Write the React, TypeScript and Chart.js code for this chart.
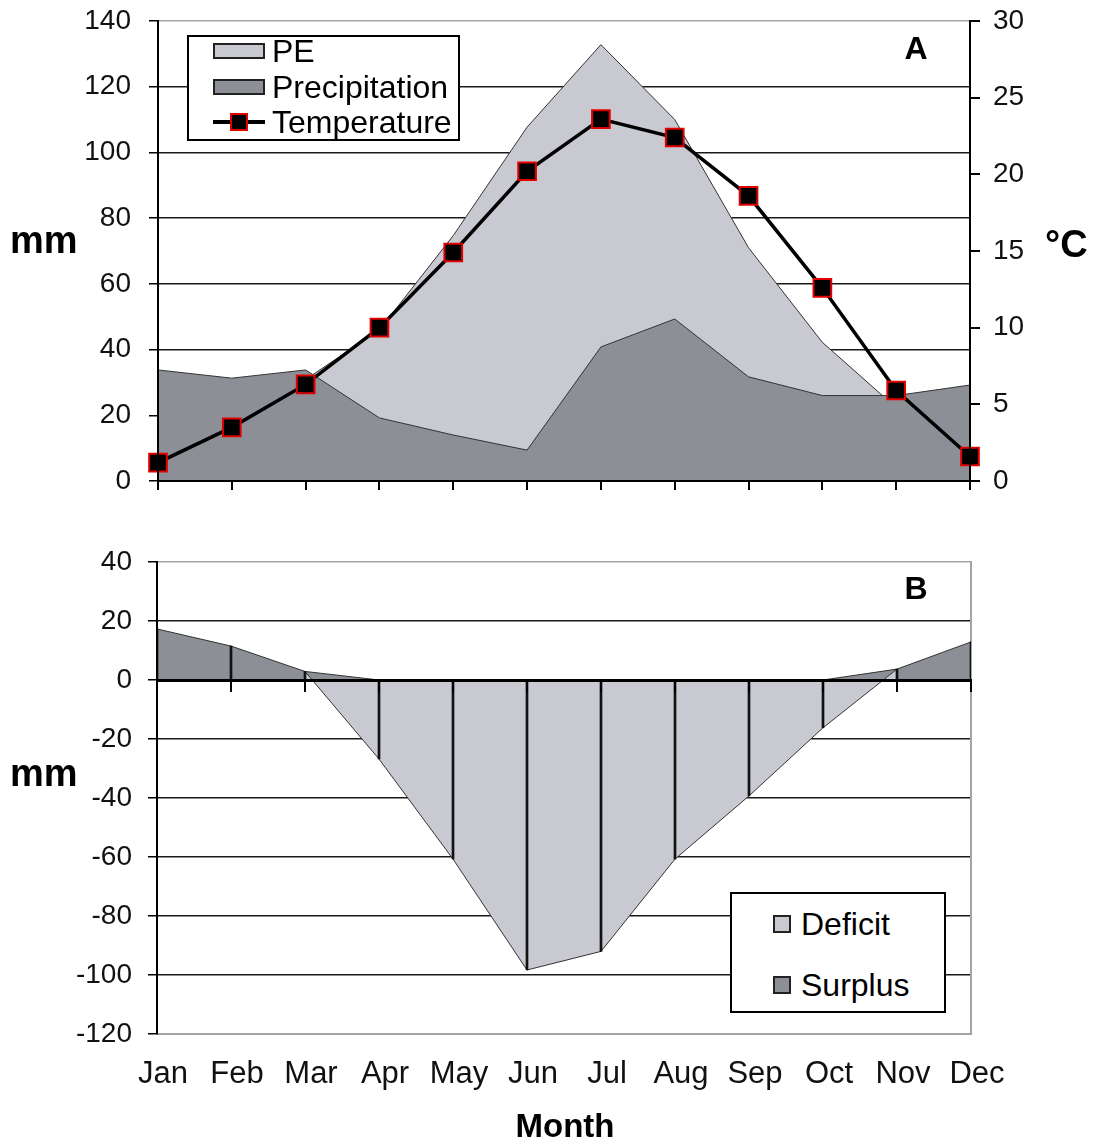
import React, { useEffect, useRef } from 'react';
import { Chart, registerables } from 'chart.js';

Chart.register(...registerables);

// ---- data ----
const months = ['Jan', 'Feb', 'Mar', 'Apr', 'May', 'Jun', 'Jul', 'Aug', 'Sep', 'Oct', 'Nov', 'Dec'];
const peMm = [16.5, 19.8, 30.9, 46, 74.7, 107.7, 132.8, 110, 71, 42.2, 22.3, 16.3];
const precipitationMm = [33.8, 31.3, 33.8, 19.2, 14, 9.4, 40.8, 49.3, 31.7, 26, 26, 29.2];
const temperatureC = [1.2, 3.5, 6.3, 10.0, 14.9, 20.2, 23.6, 22.4, 18.6, 12.6, 5.9, 1.6];
const surplusMm = [17.3, 11.5, 2.9, 0, 0, 0, 0, 0, 0, 0, 3.7, 12.9];
const deficitMm = [null, null, 2.9, -26.8, -60.7, -98.3, -92, -60.7, -39.3, -16.2, 3.7, null];
const balanceMm = [17.3, 11.5, 2.9, -26.8, -60.7, -98.3, -92, -60.7, -39.3, -16.2, 3.7, 12.9];
const mmTicksTop = { min: 0, max: 140, step: 20 };
const cTicks = { min: 0, max: 30, step: 5 };
const mmTicksBottom = { min: -120, max: 40, step: 20 };

const FONT = "'Liberation Sans', Arial, Helvetica, sans-serif";
const LIGHT = '#c8c9d1';
const DARK = '#8d8f97';
const GRID = '#1a1a1a';
const BORDER_GRAY = '#a3a3a3';

function Txt(props: { x: number; y: number; size: number; bold?: boolean; center?: boolean; children: any }) {
  return (
    <div
      style={{
        position: 'absolute',
        left: props.x,
        top: props.y,
        transform: props.center ? 'translate(-50%, -50%)' : 'translate(0, -50%)',
        fontSize: props.size,
        fontWeight: props.bold ? 'bold' : 'normal',
        lineHeight: 1,
        whiteSpace: 'nowrap',
        color: '#000',
        fontFamily: FONT,
      }}
    >
      {props.children}
    </div>
  );
}

const fitY = (w: number) => (s: any) => {
  s.width = w;
  s.paddingTop = 0;
  s.paddingBottom = 0;
};

export default function App() {
  const topRef = useRef<HTMLCanvasElement>(null);
  const botRef = useRef<HTMLCanvasElement>(null);

  useEffect(() => {
    Chart.defaults.font.family = FONT;
    Chart.defaults.color = '#111';

    const top = new Chart(topRef.current as HTMLCanvasElement, {
      type: 'line',
      data: {
        labels: months,
        datasets: [
          {
            label: 'Temperature',
            data: temperatureC,
            yAxisID: 'y1',
            xAxisID: 'x',
            borderColor: '#000',
            borderWidth: 3.5,
            pointStyle: 'rect',
            pointRadius: 12.5,
            pointBackgroundColor: '#000',
            pointBorderColor: '#e00000',
            pointBorderWidth: 2,
            fill: false,
            tension: 0,
            clip: false,
          } as any,
          {
            label: 'Precipitation',
            data: precipitationMm,
            yAxisID: 'y',
            xAxisID: 'x',
            borderColor: '#333',
            borderWidth: 1,
            backgroundColor: DARK,
            fill: 'origin',
            pointRadius: 0,
            tension: 0,
          },
          {
            label: 'PE',
            data: peMm,
            yAxisID: 'y',
            xAxisID: 'x',
            borderColor: '#333',
            borderWidth: 1,
            backgroundColor: LIGHT,
            fill: 'origin',
            pointRadius: 0,
            tension: 0,
          },
        ],
      },
      options: {
        responsive: false,
        animation: false,
        events: [],
        layout: { padding: { top: 21, left: 0, right: 0, bottom: 0 } },
        plugins: { legend: { display: false }, tooltip: { enabled: false } },
        scales: {
          x: {
            type: 'category',
            offset: false,
            ticks: { display: false },
            grid: { drawOnChartArea: false, tickLength: 9, color: '#000', lineWidth: 2, offset: false },
            border: { color: '#000', width: 2, z: 1 },
            afterFit: (s: any) => { s.height = 19; s.paddingLeft = 0; s.paddingRight = 0; },
          },
          y: {
            position: 'left',
            min: mmTicksTop.min,
            max: mmTicksTop.max,
            ticks: { stepSize: mmTicksTop.step, padding: 18, font: { size: 28 }, color: '#111' },
            grid: {
              color: (c: any) => (c.tick && c.tick.value === mmTicksTop.max ? BORDER_GRAY : GRID),
              lineWidth: 1.5,
              tickLength: 9,
              tickColor: '#000',
            },
            border: { color: '#000', width: 2, z: 1 },
            afterFit: fitY(158),
          },
          y1: {
            position: 'right',
            min: cTicks.min,
            max: cTicks.max,
            ticks: { stepSize: cTicks.step, padding: 13, font: { size: 28 }, color: '#111' },
            grid: { drawOnChartArea: false, tickLength: 10, color: '#000', lineWidth: 2 },
            border: { color: '#000', width: 2, z: 1 },
            afterFit: fitY(124),
          },
        },
      } as any,
    });

    const bottom = new Chart(botRef.current as HTMLCanvasElement, {
      type: 'line',
      data: {
        labels: months,
        datasets: [
          {
            type: 'bar',
            label: 'Drop lines',
            data: balanceMm,
            xAxisID: 'x',
            yAxisID: 'y',
            backgroundColor: '#111',
            barThickness: 2,
          } as any,
          {
            label: 'Deficit',
            data: deficitMm,
            xAxisID: 'x',
            yAxisID: 'y',
            backgroundColor: LIGHT,
            borderColor: '#333',
            borderWidth: 1,
            fill: 'origin',
            pointRadius: 0,
            tension: 0,
          },
          {
            label: 'Surplus',
            data: surplusMm,
            xAxisID: 'x',
            yAxisID: 'y',
            backgroundColor: DARK,
            borderColor: '#333',
            borderWidth: 1,
            fill: 'origin',
            pointRadius: 0,
            tension: 0,
          },
        ],
      },
      options: {
        responsive: false,
        animation: false,
        events: [],
        layout: { padding: { top: 22, left: 0, right: 123, bottom: 0 } },
        plugins: { legend: { display: false }, tooltip: { enabled: false } },
        scales: {
          x: {
            type: 'category',
            position: { y: 0 },
            offset: false,
            ticks: { display: false },
            grid: { drawOnChartArea: false, tickLength: 10, color: '#000', lineWidth: 2, offset: false, z: 1 },
            border: { color: '#000', width: 3, z: 1 },
          },
          x2: {
            type: 'category',
            position: 'bottom',
            offset: false,
            ticks: { padding: 22, labelOffset: 6, font: { size: 31 }, color: '#111', autoSkip: false, maxRotation: 0 },
            grid: { display: true, drawOnChartArea: false, drawTicks: false, offset: false },
            border: { color: BORDER_GRAY, width: 2 },
            afterFit: (s: any) => { s.height = 109; s.paddingLeft = 0; s.paddingRight = 0; },
          },
          y: {
            position: 'left',
            min: mmTicksBottom.min,
            max: mmTicksBottom.max,
            ticks: { stepSize: mmTicksBottom.step, padding: 16, font: { size: 28 }, color: '#111' },
            grid: {
              color: (c: any) =>
                c.tick && (c.tick.value === mmTicksBottom.max || c.tick.value === mmTicksBottom.min) ? BORDER_GRAY : GRID,
              lineWidth: 1.5,
              tickLength: 9,
              tickColor: '#000',
            },
            border: { color: '#000', width: 2, z: 1 },
            afterFit: fitY(157),
          },
          yR: {
            position: 'right',
            ticks: { display: false },
            grid: { drawOnChartArea: false, drawTicks: false },
            border: { color: BORDER_GRAY, width: 2 },
            afterFit: fitY(0),
          },
        },
      } as any,
    });

    return () => {
      top.destroy();
      bottom.destroy();
    };
  }, []);

  return (
    <div
      style={{
        position: 'absolute',
        left: 0,
        top: 0,
        width: 1094,
        height: 1143,
        background: '#fff',
        fontFamily: FONT,
        overflow: 'hidden',
      }}
    >
      <canvas ref={topRef} width={1094} height={500} style={{ position: 'absolute', left: 0, top: 0, width: 1094, height: 500 }} />
      <canvas ref={botRef} width={1094} height={603} style={{ position: 'absolute', left: 0, top: 540, width: 1094, height: 603 }} />

      {/* axis titles and panel letters */}
      <Txt x={10} y={240} size={38} bold>mm</Txt>
      <Txt x={10} y={773} size={38} bold>mm</Txt>
      <Txt x={1045} y={244} size={38} bold>°C</Txt>
      <Txt x={916} y={48} size={32} bold center>A</Txt>
      <Txt x={916} y={588} size={32} bold center>B</Txt>
      <Txt x={565} y={1125} size={33} bold center>Month</Txt>

      {/* top legend */}
      <div
        style={{
          position: 'absolute',
          left: 187,
          top: 35,
          width: 273,
          height: 106,
          border: '2px solid #000',
          background: '#fff',
          boxSizing: 'border-box',
        }}
      >
        <div style={{ position: 'absolute', left: 24, top: 6, width: 52, height: 16, background: LIGHT, border: '2px solid #222', boxSizing: 'border-box' }} />
        <Txt x={83} y={14} size={32}>PE</Txt>
        <div style={{ position: 'absolute', left: 24, top: 42, width: 52, height: 16, background: DARK, border: '2px solid #222', boxSizing: 'border-box' }} />
        <Txt x={83} y={50} size={32}>Precipitation</Txt>
        <div style={{ position: 'absolute', left: 24, top: 83, width: 52, height: 3.5, background: '#000' }} />
        <div style={{ position: 'absolute', left: 41, top: 76, width: 18, height: 18, background: '#000', border: '2px solid #e00000', boxSizing: 'border-box' }} />
        <Txt x={83} y={85} size={32}>Temperature</Txt>
      </div>

      {/* bottom legend */}
      <div
        style={{
          position: 'absolute',
          left: 730,
          top: 892,
          width: 216,
          height: 121,
          border: '2px solid #000',
          background: '#fff',
          boxSizing: 'border-box',
        }}
      >
        <div style={{ position: 'absolute', left: 41, top: 21, width: 18, height: 18, background: LIGHT, border: '2px solid #222', boxSizing: 'border-box' }} />
        <Txt x={69} y={30} size={32}>Deficit</Txt>
        <div style={{ position: 'absolute', left: 41, top: 82, width: 18, height: 18, background: DARK, border: '2px solid #222', boxSizing: 'border-box' }} />
        <Txt x={69} y={91} size={32}>Surplus</Txt>
      </div>
    </div>
  );
}
